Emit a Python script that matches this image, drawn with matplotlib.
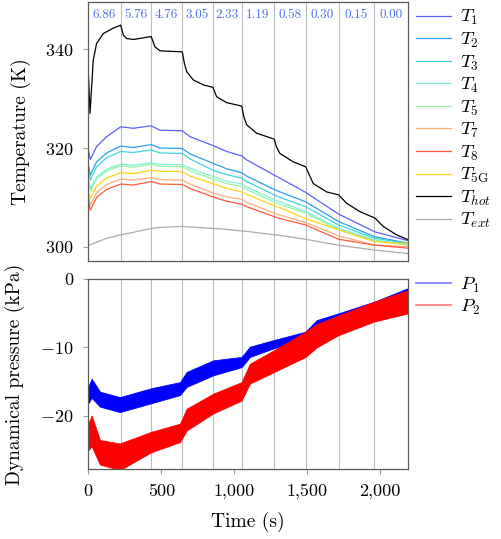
"""Temperature and dynamical pressure over time (two stacked panels)"""

import matplotlib
matplotlib.use("Agg")
import matplotlib.pyplot as plt
from matplotlib.ticker import FuncFormatter
from matplotlib.lines import Line2D

plt.rcParams["font.family"] = "serif"
plt.rcParams["font.serif"] = ["cmr10", "DejaVu Serif"]
plt.rcParams["mathtext.fontset"] = "cm"
plt.rcParams["axes.formatter.use_mathtext"] = True

# --- data ---
# step changes (s) and the value annotated in each interval
step_times = [222, 431, 644, 854, 1051, 1274, 1489, 1715, 1959]
step_labels = ["6.86", "5.76", "4.76", "3.05", "2.33", "1.19", "0.58", "0.30", "0.15", "0.00"]

t_hot = [0, 12, 34, 57, 103, 171, 222, 240, 263, 309, 431, 457, 491, 644, 658, 674, 719, 788,
         854, 879, 948, 1051, 1065, 1085, 1153, 1274, 1290, 1313, 1404, 1489, 1541, 1633, 1715,
         1770, 1861, 1964, 2020, 2112, 2192]
T_hot = [335.8, 327.0, 337.8, 341.2, 343.2, 344.3, 344.9, 342.9, 342.2, 342.0, 342.6, 340.5,
         339.7, 339.5, 337.2, 335.5, 333.8, 332.8, 332.3, 330.4, 329.2, 328.5, 326.4, 324.7,
         323.0, 321.8, 320.2, 318.9, 317.2, 316.2, 312.8, 311.1, 310.5, 308.8, 307.1, 305.8,
         304.1, 302.4, 301.4]

t_sens = [0, 14, 57, 126, 222, 308, 431, 491, 644, 697, 854, 948, 1051, 1085, 1274, 1313,
          1489, 1715, 1964, 2192]
T_1 = [319.6, 317.7, 320.3, 322.3, 324.3, 324.0, 324.5, 323.6, 323.5, 322.3, 320.5, 319.3,
       318.4, 317.6, 314.5, 313.9, 311.0, 306.6, 303.0, 301.2]
T_2 = [316.6, 314.5, 317.2, 319.0, 320.4, 320.1, 320.7, 320.0, 319.9, 318.8, 316.9, 315.8,
       315.0, 314.3, 311.6, 311.1, 309.1, 305.1, 302.0, 300.7]
T_3 = [315.9, 313.5, 316.2, 318.0, 319.3, 319.1, 319.6, 319.0, 318.9, 317.8, 315.5, 314.6,
       313.9, 313.2, 310.5, 310.0, 308.1, 304.4, 301.7, 300.6]
T_4 = [313.5, 311.8, 314.1, 315.7, 316.7, 316.5, 317.0, 316.7, 316.6, 315.9, 314.2, 313.3,
       312.7, 312.1, 309.5, 309.1, 307.1, 303.7, 301.4, 300.4]
T_5 = [313.0, 311.3, 313.7, 315.3, 316.4, 316.1, 316.7, 316.3, 316.2, 315.4, 313.7, 312.8,
       312.2, 311.6, 309.0, 308.6, 306.8, 303.4, 301.2, 300.3]
T_7 = [310.5, 308.4, 311.0, 312.6, 313.7, 313.5, 314.0, 313.6, 313.5, 312.7, 310.9, 310.1,
       309.6, 309.0, 306.8, 306.4, 304.9, 302.2, 300.3, 300.0]
T_8 = [309.5, 307.4, 310.0, 311.6, 312.7, 312.5, 313.2, 312.7, 312.6, 311.8, 310.1, 309.2,
       308.6, 308.1, 306.1, 305.7, 304.4, 301.5, 300.3, 299.7]
T_5G = [311.5, 309.8, 312.3, 313.9, 315.0, 314.8, 315.5, 315.3, 315.2, 314.3, 312.8, 311.8,
        311.1, 310.6, 308.3, 307.9, 305.7, 303.4, 301.0, 300.6]
T_ext = [300.3, 300.4, 300.9, 301.7, 302.4, 302.9, 303.7, 303.9, 304.1, 304.0, 303.7, 303.5,
         303.2, 303.1, 302.4, 302.3, 301.5, 300.3, 299.3, 298.6]

# pressure: noisy traces, given as lower/upper envelope of the noise band
t_p = [0, 23, 80, 217, 431, 628, 674, 856, 1050, 1107, 1274, 1488, 1564, 1714, 1958, 2190]
P1_hi = [-15.8, -14.6, -16.5, -17.3, -16.0, -15.1, -13.6, -11.9, -11.4, -9.9, -8.9, -7.7,
         -6.0, -5.0, -3.3, -1.3]
P1_lo = [-18.2, -17.4, -18.7, -19.5, -18.2, -17.0, -15.8, -14.1, -12.9, -11.4, -10.1, -9.2,
         -7.2, -6.2, -4.5, -2.6]
P2_hi = [-21.2, -20.0, -23.6, -24.1, -22.4, -21.2, -19.0, -16.8, -15.1, -12.4, -10.4, -7.7,
         -6.6, -5.3, -3.3, -1.6]
P2_lo = [-25.1, -24.5, -27.2, -28.0, -25.4, -23.9, -22.2, -19.7, -17.8, -15.3, -13.6, -11.4,
         -10.0, -8.2, -6.2, -5.0]

temp_series = [
    (T_1, r"$T_1$", "#5a62f5"),
    (T_2, r"$T_2$", "#2a9ef0"),
    (T_3, r"$T_3$", "#3fd3e3"),
    (T_4, r"$T_4$", "#7cf0d2"),
    (T_5, r"$T_5$", "#98f2a4"),
    (T_7, r"$T_7$", "#ffac7a"),
    (T_8, r"$T_8$", "#ff5a3a"),
    (T_5G, r"$T_{5\mathrm{G}}$", "#ffd21a"),
]

fig = plt.figure(figsize=(5.01, 5.39), dpi=100)
ax1 = fig.add_axes([0.1762, 0.5158, 0.6387, 0.4805])
ax2 = fig.add_axes([0.1762, 0.1293, 0.6387, 0.3525])

xmax = 2192

for ax in (ax1, ax2):
    for ts in step_times:
        ax.axvline(ts, color="#bdbdbd", lw=0.8, zorder=0)
    ax.set_xlim(0, xmax)
    for s in ax.spines.values():
        s.set_color("#5a5a5a")
        s.set_linewidth(0.9)
    ax.tick_params(direction="out", color="#9a9a9a", length=3.5, width=0.8,
                   labelsize=13, pad=7)

# top panel
for vals, lab, col in temp_series:
    ax1.plot(t_sens, vals, color=col, lw=0.9, label=lab)
ax1.plot(t_hot, T_hot, color="black", lw=0.9, label=r"$T_{hot}$")
ax1.plot(t_sens, T_ext, color="#ababab", lw=0.9, label=r"$T_{ext}$")

ax1.set_ylim(297.1, 349.6)
ax1.set_yticks([300, 320, 340])
ax1.set_xticks([])
ax1.set_ylabel("Temperature (K)", fontsize=14)
ax1.yaxis.set_label_coords(-0.179, 0.5)

bounds = [0] + step_times + [xmax]
for i, lab in enumerate(step_labels):
    xc = (bounds[i] + bounds[i + 1]) / 2
    ax1.text(xc, 0.95, lab, transform=ax1.get_xaxis_transform(), ha="center",
             va="center", fontsize=9.5, color="#4f6fe8")

leg_kw = dict(loc="upper left", frameon=False, fontsize=13.5, handlelength=1.9,
              handletextpad=0.45, borderaxespad=0.0)
ax1.legend(bbox_to_anchor=(1.0, 1.005), labelspacing=0.18, **leg_kw)

# bottom panel
ax2.fill_between(t_p, P1_lo, P1_hi, color="#0000ff", lw=0.6, edgecolor="#0000ff")
ax2.fill_between(t_p, P2_lo, P2_hi, color="#ff0000", lw=0.6, edgecolor="#ff0000")
ax2.set_ylim(-27.9, 0)
ax2.set_yticks([0, -10, -20])
ax2.yaxis.set_major_formatter(FuncFormatter(lambda v, p: "0" if v == 0 else f"${v:.0f}$"))
ax2.set_xticks([0, 500, 1000, 1500, 2000])
ax2.xaxis.set_major_formatter(FuncFormatter(lambda v, p: f"{v:,.0f}"))
ax2.set_ylabel("Dynamical pressure (kPa)", fontsize=14)
ax2.yaxis.set_label_coords(-0.198, 0.5)
ax2.set_xlabel("Time (s)", fontsize=14, labelpad=9)

handles = [Line2D([], [], color="#7777ff", lw=1.2), Line2D([], [], color="#ff7777", lw=1.2)]
ax2.legend(handles, [r"$P_1$", r"$P_2$"], bbox_to_anchor=(1.0, 1.06), labelspacing=0.15,
           **leg_kw)

fig.savefig("out.png", dpi=100)
plt.close(fig)
